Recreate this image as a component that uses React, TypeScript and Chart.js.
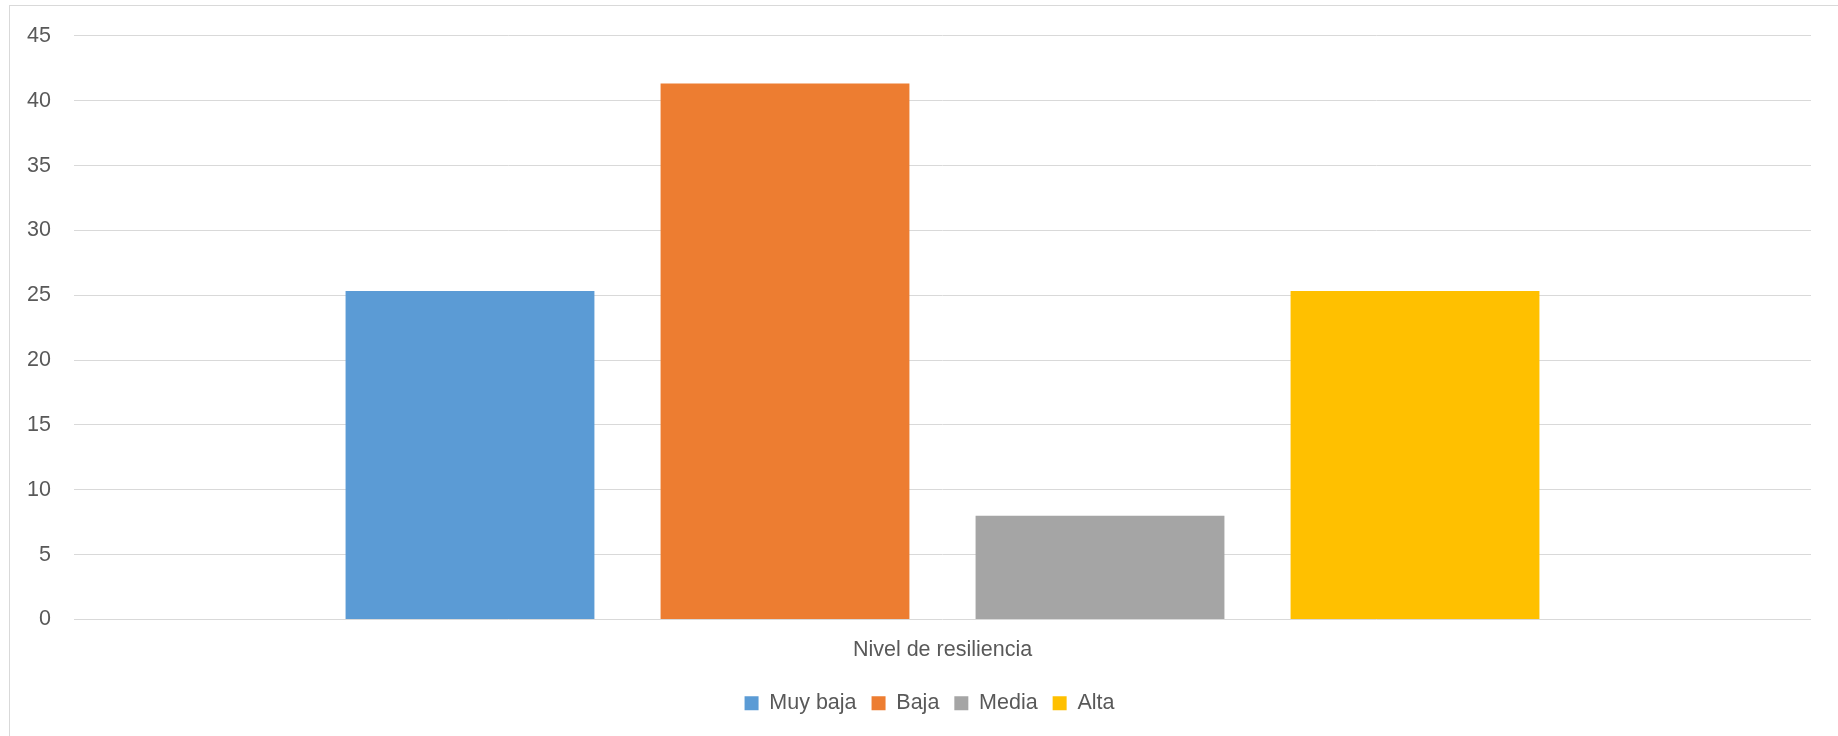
import React, { useEffect, useRef } from "react";
import { Chart, registerables } from "chart.js";

Chart.register(...registerables);

const categories = ["Nivel de resiliencia"];
const seriesNames = ["Muy baja", "Baja", "Media", "Alta"];
const seriesValues = [[25.33], [41.33], [8], [25.33]];
const seriesColors = ["#5B9BD5", "#ED7D31", "#A5A5A5", "#FFC000"];
const yTicksMin = 0;
const yTicksMax = 45;
const yTicksStep = 5;

const FONT = "'Liberation Sans', Arial, sans-serif";
const TEXT = "#595959";
const GRID = "#d9d9d9";

// centre the legend on the whole frame like the original, rather than on the padded box
const legendShift = {
  id: "legendShift",
  afterLayout(chart: any) {
    const lg = chart.legend;
    if (lg) {
      lg.left += 24;
      lg.right += 24;
    }
  },
};

export default function App() {
  const ref = useRef<HTMLCanvasElement | null>(null);

  useEffect(() => {
    document.body.style.margin = "0";
    const canvas = ref.current;
    if (!canvas) return;
    const chart = new Chart(canvas, {
      type: "bar",
      data: {
        labels: categories,
        datasets: seriesNames.map((name, i) => ({
          label: name,
          data: seriesValues[i],
          backgroundColor: seriesColors[i],
          borderWidth: 0,
          categoryPercentage: 0.7254,
          barPercentage: 0.79,
        })),
      },
      options: {
        animation: false,
        responsive: false,
        maintainAspectRatio: false,
        layout: { padding: { top: 35, right: 27, left: 0, bottom: 12 } },
        plugins: {
          tooltip: { enabled: false },
          legend: {
            position: "bottom",
            labels: {
              color: TEXT,
              font: { family: FONT, size: 21.5 },
              boxWidth: 14,
              boxHeight: 14,
              padding: 15,
            },
          },
        },
        scales: {
          x: {
            grid: { display: false },
            border: { display: false },
            ticks: {
              color: TEXT,
              font: { family: FONT, size: 21.5 },
              padding: 10,
            },
            afterFit: (s: any) => {
              s.height = 58;
            },
          },
          y: {
            min: yTicksMin,
            max: yTicksMax,
            grid: { color: GRID, lineWidth: 1, drawTicks: false },
            border: { display: false },
            ticks: {
              stepSize: yTicksStep,
              color: TEXT,
              font: { family: FONT, size: 21.5 },
              padding: 23,
            },
            afterFit: (s: any) => {
              s.width = 74;
            },
          },
        },
      },
      plugins: [legendShift],
    });
    return () => chart.destroy();
  }, []);

  return (
    <div
      style={{
        position: "absolute",
        left: 0,
        top: 0,
        width: 1838,
        height: 736,
        overflow: "hidden",
        background: "#fff",
      }}
    >
      <div
        style={{
          position: "absolute",
          left: 9,
          top: 5,
          width: 2000,
          height: 2000,
          border: "1px solid " + GRID,
        }}
      />
      <canvas
        ref={ref}
        width={1838}
        height={736}
        style={{ position: "absolute", left: 0, top: 0, width: 1838, height: 736 }}
      />
    </div>
  );
}
